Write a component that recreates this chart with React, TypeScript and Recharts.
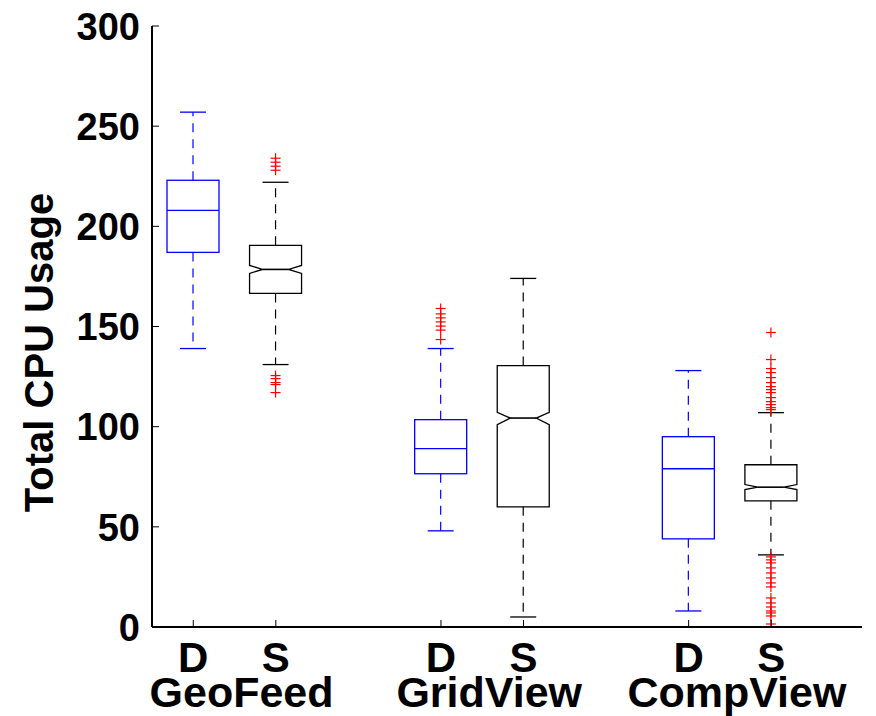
import { ComposedChart, Bar, XAxis, YAxis, Label } from "recharts"

// box positions on the x axis (MATLAB-style, gap between groups)
const positions = [1, 2, 4, 5, 7, 8]
const methods = ["D", "S", "D", "S", "D", "S"]
const groups = ["GeoFeed", "GridView", "CompView"]
const groupCenters = [1.5, 4.5, 7.5]
const yTicks = [0, 50, 100, 150, 200, 250, 300]

// box statistics
const whiskerLow = [139, 131, 48, 5, 8, 36]
const q1 = [187, 166.5, 76.5, 60, 44, 63]
const median = [208, 178.5, 89, 104.3, 79, 69.8]
const q3 = [223, 190.5, 103.5, 130.5, 95, 81]
const whiskerHigh = [257, 222, 139, 174, 128, 107]
const notchLow = [null, 176.5, null, 101, null, 68.6]
const notchHigh = [null, 180.5, null, 107.2, null, 71.1]
const outliers = [
    [],
    [234, 232, 230, 228, 125.5, 124, 122, 121, 117],
    [159, 156.3, 154.3, 152.3, 150.2, 148.2, 143.5],
    [],
    [],
    [147, 133.5, 129, 127, 124.5, 122, 120, 118.5, 117, 114.5, 112.5, 111, 109.5, 108.5,
        35, 33.5, 32, 29.5, 27, 24.5, 22, 20, 14.5, 12, 10, 8, 7, 5.5, 1.5],
]

const data = positions.map((pos, i) => ({
    pos,
    method: methods[i],
    lo: whiskerLow[i],
    q1: q1[i],
    med: median[i],
    q3: q3[i],
    hi: whiskerHigh[i],
    nLo: notchLow[i],
    nHi: notchHigh[i],
    out: outliers[i],
}))

const FONT = "'Liberation Sans', Arial, Helvetica, sans-serif"

const BoxShape = (props: any) => {
    const { x, y, width, height, payload } = props
    const { lo, hi } = payload
    // linear map derived from the bar's own scaled extent [lo, hi]
    const ppu = height / (hi - lo)
    const Y = (v: number) => y + (hi - v) * ppu
    const cx = x + width / 2
    const cap = width / 4
    const color = payload.method === "D" ? "#0000ff" : "#000000"
    const notched = payload.nLo != null

    let box
    if (notched) {
        const inset = width / 4
        const d = [
            `M${x},${Y(payload.q3)}`,
            `L${x + width},${Y(payload.q3)}`,
            `L${x + width},${Y(payload.nHi)}`,
            `L${x + width - inset},${Y(payload.med)}`,
            `L${x + width},${Y(payload.nLo)}`,
            `L${x + width},${Y(payload.q1)}`,
            `L${x},${Y(payload.q1)}`,
            `L${x},${Y(payload.nLo)}`,
            `L${x + inset},${Y(payload.med)}`,
            `L${x},${Y(payload.nHi)}`,
            "Z",
        ].join(" ")
        box = (
            <g>
                <path d={d} fill="none" stroke={color} strokeWidth={1.3} />
                <line x1={x + inset} x2={x + width - inset} y1={Y(payload.med)} y2={Y(payload.med)} stroke={color} strokeWidth={1.6} />
            </g>
        )
    } else {
        box = (
            <g>
                <rect x={x} y={Y(payload.q3)} width={width} height={Y(payload.q1) - Y(payload.q3)} fill="none" stroke={color} strokeWidth={1.3} />
                <line x1={x} x2={x + width} y1={Y(payload.med)} y2={Y(payload.med)} stroke={color} strokeWidth={1.3} />
            </g>
        )
    }

    return (
        <g>
            {/* whiskers */}
            <line x1={cx} x2={cx} y1={Y(payload.q3)} y2={Y(hi)} stroke={color} strokeWidth={1.2} strokeDasharray="9 7" />
            <line x1={cx} x2={cx} y1={Y(payload.q1)} y2={Y(lo)} stroke={color} strokeWidth={1.2} strokeDasharray="9 7" />
            <line x1={cx - cap} x2={cx + cap} y1={Y(hi)} y2={Y(hi)} stroke={color} strokeWidth={1.3} />
            <line x1={cx - cap} x2={cx + cap} y1={Y(lo)} y2={Y(lo)} stroke={color} strokeWidth={1.3} />
            {box}
            {/* outliers */}
            {payload.out.map((v: number, k: number) => (
                <g key={k}>
                    <line x1={cx - 5} x2={cx + 5} y1={Y(v)} y2={Y(v)} stroke="#ff0000" strokeWidth={1.2} />
                    <line x1={cx} x2={cx} y1={Y(v) - 5} y2={Y(v) + 5} stroke="#ff0000" strokeWidth={1.2} />
                </g>
            ))}
        </g>
    )
}

const YTick = (props: any) => {
    const { x, y, payload } = props
    return (
        <g>
            <line x1={x} x2={x + 7} y1={y} y2={y} stroke="#000" strokeWidth={1} />
            <text x={x - 12} y={y} dy="0.36em" textAnchor="end" fontFamily={FONT} fontWeight="bold" fontSize={38} fill="#000">
                {payload.value}
            </text>
        </g>
    )
}

const MethodTick = (props: any) => {
    const { x, y, payload } = props
    const i = positions.indexOf(payload.value)
    return (
        <g>
            <line x1={x} x2={x} y1={y} y2={y - 7} stroke="#000" strokeWidth={1} />
            <text x={x} y={y + 45} textAnchor="middle" fontFamily={FONT} fontWeight="bold" fontSize={42} fill="#000">
                {methods[i]}
            </text>
        </g>
    )
}

const GroupTick = (props: any) => {
    const { x, y, payload } = props
    const i = groupCenters.indexOf(payload.value)
    return (
        <text x={x + 7} y={y + 40} textAnchor="middle" fontFamily={FONT} fontWeight="bold" fontSize={43} fill="#000">
            {groups[i]}
        </text>
    )
}

const AxisTitle = (props: any) => {
    const { viewBox } = props
    const x = viewBox.x + 45
    const y = viewBox.y + viewBox.height / 2 + 26
    return (
        <text x={x} y={y} transform={`rotate(-90, ${x}, ${y})`} textAnchor="middle" fontFamily={FONT} fontWeight="bold" fontSize={40} fill="#000">
            Total CPU Usage
        </text>
    )
}

export default function App() {
    return (
        <div style={{ width: 868, height: 716, margin: "-8px 0 0 -8px", background: "#fff" }}>
            <ComposedChart width={868} height={716} data={data} margin={{ top: 26, right: 6, bottom: 8, left: 8 }}>
                <XAxis
                    dataKey="pos"
                    type="number"
                    domain={[0.5, 9.1]}
                    ticks={positions}
                    interval={0}
                    allowDataOverflow
                    height={40}
                    tickSize={0}
                    tickMargin={0}
                    tickLine={false}
                    axisLine={{ stroke: "#000", strokeWidth: 2 }}
                    tick={<MethodTick />}
                />
                <XAxis
                    xAxisId="grp"
                    dataKey="pos"
                    type="number"
                    domain={[0.5, 9.1]}
                    ticks={groupCenters}
                    interval={0}
                    allowDataOverflow
                    height={41}
                    tickSize={0}
                    tickMargin={0}
                    tickLine={false}
                    axisLine={false}
                    tick={<GroupTick />}
                />
                <YAxis
                    type="number"
                    domain={[0, 300]}
                    ticks={yTicks}
                    interval={0}
                    allowDataOverflow
                    width={144}
                    tickSize={0}
                    tickMargin={0}
                    tickLine={false}
                    axisLine={{ stroke: "#000", strokeWidth: 2 }}
                    tick={<YTick />}
                >
                    <Label content={<AxisTitle />} />
                </YAxis>
                <Bar
                    dataKey={(d: any) => [d.lo, d.hi]}
                    barSize={52}
                    shape={<BoxShape />}
                    isAnimationActive={false}
                />
            </ComposedChart>
        </div>
    )
}
